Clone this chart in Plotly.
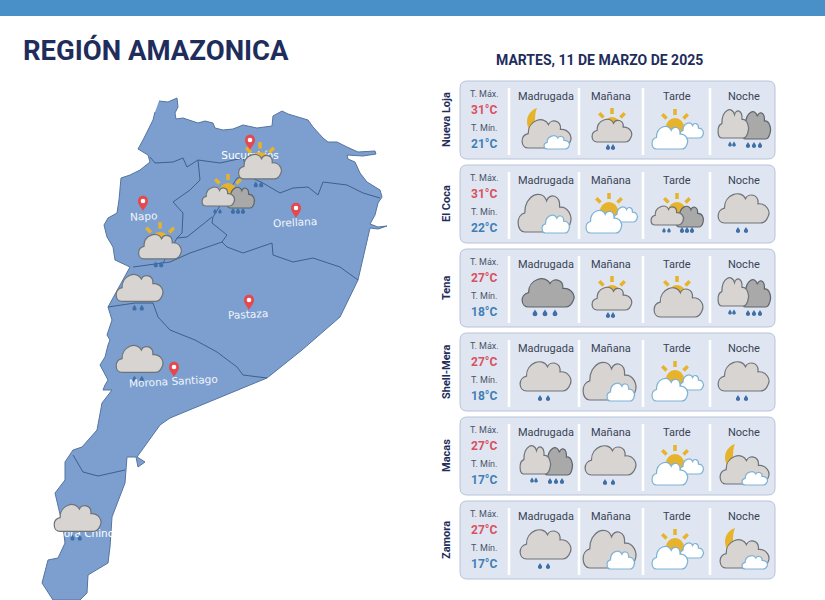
import numpy as np
import plotly.graph_objects as go

TITLE = "REGIÓN AMAZONICA"
DATE = "MARTES, 11 DE MARZO DE 2025"
PERIODS = ["Madrugada", "Mañana", "Tarde", "Noche"]
STATIONS = ["Nueva Loja", "El Coca", "Tena", "Shell-Mera", "Macas", "Zamora"]
T_MAX = [31, 31, 27, 27, 27, 27]
T_MIN = [21, 22, 18, 18, 17, 17]
FORECAST = [
    ["night_white", "sun_gray_rain", "sun_white", "two_gray_rain"],
    ["gray_white", "sun_white", "sun_two_rain", "gray_rain"],
    ["dark_rain", "sun_gray_rain", "sun_gray", "two_gray_rain"],
    ["gray_rain", "gray_white", "sun_white", "gray_rain"],
    ["two_gray_rain", "gray_rain", "sun_white", "night_white"],
    ["gray_rain", "gray_white", "sun_white", "night_white"],
]

# map outline
OUTLINE_X = [159, 168, 177, 178, 175, 176, 183, 190, 198, 205, 213, 215, 223, 233, 243, 257, 272, 273, 282, 288,
             300, 308, 313, 323, 328, 337, 347, 358, 375, 376, 363, 347, 348, 355, 360, 367, 380, 382, 378, 375,
             370, 378, 387, 378, 370, 358, 340, 302, 267, 170, 160, 147, 137, 145, 138, 136, 127, 125, 117, 112,
             110, 108, 88, 87, 80, 53, 42, 48, 58, 65, 63, 55, 65, 65, 73, 82, 97, 102, 112, 103,
             105, 108, 100, 105, 108, 110, 107, 112, 108, 117, 130, 115, 113, 107, 104, 108, 117, 119, 121, 130,
             140, 150, 148, 138, 143, 153, 155]
OUTLINE_Y = [101, 102, 98, 107, 113, 119, 118, 120, 123, 121, 123, 128, 130, 129, 125, 128, 126, 116, 111, 114,
             118, 120, 127, 138, 142, 142, 147, 152, 151, 154, 156, 155, 159, 162, 173, 182, 190, 197, 203, 215,
             224, 227, 226, 229, 228, 280, 317, 350, 378, 418, 425, 443, 457, 462, 467, 457, 457, 483, 503, 517,
             547, 563, 575, 593, 600, 600, 583, 560, 558, 543, 527, 493, 480, 462, 450, 447, 430, 403, 390, 390,
             385, 380, 365, 357, 345, 340, 335, 320, 307, 290, 267, 260, 247, 237, 225, 218, 213, 200, 178, 175,
             170, 162, 155, 149, 140, 120, 112]
BORDERS = [
    ([150, 155, 173, 183, 187, 198, 220, 243, 250, 263, 280, 293, 308, 318, 323, 347, 363, 380],
     [157, 163, 162, 158, 167, 160, 163, 158, 177, 183, 193, 188, 187, 195, 182, 185, 193, 198]),
    ([198, 200, 190, 173, 183, 182, 177, 163], [160, 180, 190, 202, 213, 233, 238, 263]),
    ([250, 237, 213, 212, 227, 222, 190, 170, 133], [177, 178, 217, 223, 235, 242, 253, 262, 267]),
    ([212, 187, 177], [217, 237, 238]),
    ([222, 227, 243, 272, 273, 293, 313, 340, 358], [242, 247, 253, 243, 255, 262, 258, 267, 280]),
    ([108, 135, 153, 158, 170, 195, 217, 237, 243, 267], [307, 303, 303, 317, 330, 340, 352, 367, 375, 378]),
    ([73, 83, 98, 125], [455, 472, 476, 470]),
]
PROVINCES = ["Sucumbíos", "Napo", "Orellana", "Pastaza", "Morona Santiago", "Zamora Chinchipe"]
PIN_X = [250, 143, 296, 249, 174]
PIN_Y = [150, 211, 218, 310, 377]
LABEL_X = [250, 143, 295, 248, 173, 88]
LABEL_Y = [156, 216, 222, 314, 381, 534]
MAP_ICONS = ["sun_gray_rain", "sun_two_rain", "sun_gray_rain", "gray_rain", "gray_rain", "gray_rain"]
MAP_ICON_X = [259, 228, 159, 140, 140, 78]
MAP_ICON_TOP = [113, 146, 193, 248, 319, 478]
MAP_ICON_SCALE = [1.08, 1, 1.08, 0.92, 0.92, 0.92]

NAVY = "#1f2d5c"
SUN = "#e6b32b"
GRAY = ("#d8d4d2", "#6e7378")
DARK = ("#a9a9a9", "#5f6468")
WHITE = ("#ffffff", "#7fb3d5")
CELL_X = [546, 611, 677, 744]
SEPARATORS = [509, 579, 643, 710]

shapes = []
notes = []


def add_path(path, fill, line=None, width=1.2):
    shapes.append(dict(type="path", path=path, fillcolor=fill, layer="above",
                       line=dict(color=line or fill, width=width if line else 0)))


def cloud(cx, top, s, x0, x1, y0, y1, colors):
    ax, w = cx + x0 * s, (x1 - x0) * s
    ay, h = top + y0 * s, (y1 - y0) * s
    pts = [(.13, 1), (-.03, 1), (-.05, .58), (.13, .52), (.12, .08), (.46, -.10), (.55, .22),
           (.60, .02), (.82, .06), (.80, .38), (.97, .36), (1.06, .62), (1.0, .80), (.97, .92), (.92, 1), (.85, 1)]
    p = [f"{ax + a * w:.1f},{ay + b * h:.1f}" for a, b in pts]
    path = f"M{p[0]} C{p[1]} {p[2]} {p[3]} C{p[4]} {p[5]} {p[6]} C{p[7]} {p[8]} {p[9]} C{p[10]} {p[11]} {p[12]} C{p[13]} {p[14]} {p[15]} Z"
    add_path(path, colors[0], colors[1])


def sun(cx, top, s, dx, dy, r):
    x, y = cx + dx * s, top + dy * s
    for a in np.radians([-135, -90, -45]):
        shapes.append(dict(type="line", layer="above", line=dict(color=SUN, width=3.5),
                           x0=x + np.cos(a) * (r + 3) * s, y0=y + np.sin(a) * (r + 3) * s,
                           x1=x + np.cos(a) * (r + 9) * s, y1=y + np.sin(a) * (r + 9) * s))
    shapes.append(dict(type="circle", layer="above", fillcolor=SUN, line=dict(width=0),
                       x0=x - r * s, x1=x + r * s, y0=y - r * s, y1=y + r * s))


def moon(cx, top, s):
    p = [f"{cx + a * s:.1f},{top + b * s:.1f}" for a, b in
         [(-9, 27), (-20, 31), (-21, 42), (-16, 50), (-8, 44), (-13, 36), (-9, 27)]]
    add_path(f"M{p[0]} C{p[1]} {p[2]} {p[3]} C{p[4]} {p[5]} {p[6]} Z", SUN)


def drops(cx, top, s, dxs, dy, size=1.0):
    for dx in dxs:
        x, y = cx + dx * s, top + dy * s
        r = 2.1 * size
        add_path(f"M{x:.1f},{y - 1.9 * r:.1f} C{x + .5 * r:.1f},{y - r:.1f} {x + r:.1f},{y - .6 * r:.1f} {x + r:.1f},{y:.1f} "
                 f"C{x + r:.1f},{y + 1.2 * r:.1f} {x - r:.1f},{y + 1.2 * r:.1f} {x - r:.1f},{y:.1f} "
                 f"C{x - r:.1f},{y - .6 * r:.1f} {x - .5 * r:.1f},{y - r:.1f} {x:.1f},{y - 1.9 * r:.1f} Z", "#3e6fa8")


def icon(kind, cx, top, s=1.0):
    if kind == "night_white":
        moon(cx, top, s)
        cloud(cx, top, s, -24, 24, 37, 67, GRAY)
        cloud(cx, top, s, -2, 23, 54, 68, WHITE)
    elif kind == "gray_white":
        cloud(cx, top, s, -28, 24, 27, 67, GRAY)
        cloud(cx, top, s, -4, 23, 49, 68, WHITE)
    elif kind == "sun_gray_rain":
        sun(cx, top, s, 1, 45, 9)
        cloud(cx, top, s, -19, 20, 37, 61, GRAY)
        drops(cx, top, s, [-3, 2], 67)
    elif kind == "sun_white":
        sun(cx, top, s, -2, 46, 9)
        cloud(cx, top, s, 3, 26, 41, 57, WHITE)
        cloud(cx, top, s, -25, 10, 44, 68, WHITE)
    elif kind == "two_gray_rain":
        cloud(cx, top, s, -2, 26, 29, 58, DARK)
        cloud(cx, top, s, -26, 4, 27, 57, GRAY)
        drops(cx, top, s, [-14, -10], 64, 0.85)
        drops(cx, top, s, [4, 10, 16], 65)
    elif kind == "sun_two_rain":
        sun(cx, top, s, 0, 46, 9)
        cloud(cx, top, s, -1, 26, 40, 62, DARK)
        cloud(cx, top, s, -26, 6, 40, 60, GRAY)
        drops(cx, top, s, [-13, -8], 66, 0.8)
        drops(cx, top, s, [5, 10, 15], 66)
    elif kind == "gray_rain":
        cloud(cx, top, s, -26, 24, 27, 58, GRAY)
        drops(cx, top, s, [-6, 2], 66)
    elif kind == "dark_rain":
        cloud(cx, top, s, -24, 27, 28, 58, DARK)
        drops(cx, top, s, [-11, -1, 9], 65, 1.15)
    elif kind == "sun_gray":
        sun(cx, top, s, 0, 45, 9)
        cloud(cx, top, s, -23, 25, 37, 68, GRAY)


def note(text, x, y, size, color, bold=False, family="Roboto", angle=0, anchor="center"):
    notes.append(dict(text=f"<b>{text}</b>" if bold else text, x=x, y=y, xref="x", yref="y", showarrow=False,
                      xanchor=anchor, yanchor="middle", textangle=angle,
                      font=dict(family=family, size=size, color=color)))


def card(x0, x1, y0, y1, r=7):
    shapes.append(dict(type="path", layer="below", fillcolor="#dfe6f2", line=dict(color="#b7c4d9", width=1),
                       path=f"M{x0 + r},{y0} L{x1 - r},{y0} Q{x1},{y0} {x1},{y0 + r} L{x1},{y1 - r} Q{x1},{y1} {x1 - r},{y1} "
                            f"L{x0 + r},{y1} Q{x0},{y1} {x0},{y1 - r} L{x0},{y0 + r} Q{x0},{y0} {x0 + r},{y0} Z"))


fig = go.Figure()

# top band
shapes.append(dict(type="rect", layer="below", x0=0, x1=825, y0=0, y1=16, fillcolor="#4a90c8", line=dict(width=0)))

# map
fig.add_trace(go.Scatter(x=OUTLINE_X, y=OUTLINE_Y, mode="lines", fill="toself", fillcolor="#7c9fcf",
                         line=dict(color="#55759f", width=1), hoverinfo="skip"))
for bx, by in BORDERS:
    fig.add_trace(go.Scatter(x=bx, y=by, mode="lines", line=dict(color="#3f5f8c", width=1), hoverinfo="skip"))

# labels hidden behind icons stay as trace text, the others tilt a little
fig.add_trace(go.Scatter(x=[LABEL_X[0], LABEL_X[5]], y=[LABEL_Y[0], LABEL_Y[5]], mode="text",
                         text=[PROVINCES[0], PROVINCES[5]], textposition="middle center",
                         textfont=dict(family="DejaVu Sans", size=10.5, color="#ffffff"), hoverinfo="skip"))
for i in range(1, 5):
    note(PROVINCES[i], LABEL_X[i], LABEL_Y[i], 10.5, "#f2f5fb", family="DejaVu Sans", angle=-3)

for kind, x, top, s in zip(MAP_ICONS, MAP_ICON_X, MAP_ICON_TOP, MAP_ICON_SCALE):
    icon(kind, x, top, s)

for x, y in zip(PIN_X, PIN_Y):
    add_path(f"M{x},{y} C{x - 2},{y - 4} {x - 5},{y - 6} {x - 5},{y - 10} C{x - 5},{y - 17} {x + 5},{y - 17} {x + 5},{y - 10} "
             f"C{x + 5},{y - 6} {x + 2},{y - 4} {x},{y} Z", "#e5484d")
    shapes.append(dict(type="circle", layer="above", fillcolor="#ffffff", line=dict(width=0),
                       x0=x - 2.3, x1=x + 2.3, y0=y - 12.3, y1=y - 7.7))

# forecast table
note(TITLE, 21, 50, 27.5, NAVY, bold=True, anchor="left")
note(DATE, 599, 60, 14, NAVY, bold=True)
for i, station in enumerate(STATIONS):
    top = 81 + 84 * i
    card(460, 775, top, top + 78)
    note(station, 446, top + 39, 11, NAVY, bold=True, angle=-90)
    note("T. Máx.", 484, top + 13, 9, "#4a5568")
    note(f"{T_MAX[i]}°C", 484, top + 29, 12, "#d9505f", bold=True)
    note("T. Mín.", 484, top + 47, 9, "#4a5568")
    note(f"{T_MIN[i]}°C", 484, top + 63, 12, "#3f7fb5", bold=True)
    for sx in SEPARATORS:
        shapes.append(dict(type="line", layer="below", x0=sx, x1=sx, y0=top + 7, y1=top + 74,
                           line=dict(color="#ffffff", width=2.5)))
    for period, cx, kind in zip(PERIODS, CELL_X, FORECAST[i]):
        note(period, cx, top + 15, 11, "#3a4354")
        icon(kind, cx, top)

fig.update_layout(
    width=825, height=600, margin=dict(l=0, r=0, t=0, b=0), showlegend=False,
    paper_bgcolor="white", plot_bgcolor="white", hovermode=False,
    xaxis=dict(range=[0, 825], visible=False, fixedrange=True),
    yaxis=dict(range=[600, 0], visible=False, fixedrange=True),
    shapes=shapes, annotations=notes,
)
fig.write_html("out.html", config=dict(displayModeBar=False),
               post_script="document.body.style.margin='0';document.body.style.overflow='hidden';")
